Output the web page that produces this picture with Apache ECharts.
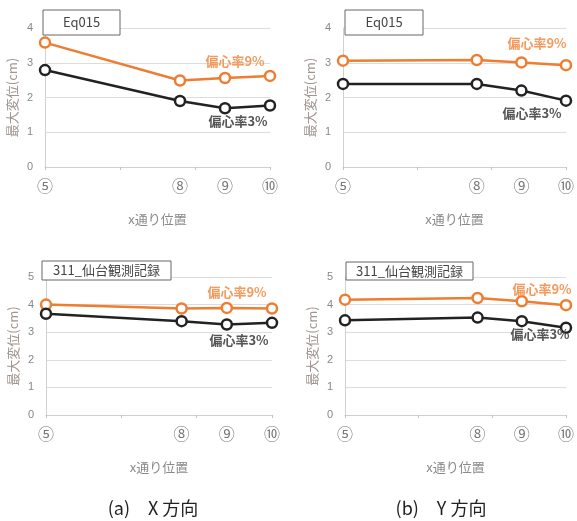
<!DOCTYPE html>
<html><head><meta charset="utf-8">
<script src="https://cdn.jsdelivr.net/npm/echarts@6/dist/echarts.min.js"></script>
<style>html,body{margin:0;padding:0;background:#fff}#c{width:577px;height:521px}</style>
</head><body><div id="c"></div>
<script>
// x positions of grid lines (relative), and their labels
const xPositions = [0, 18, 24, 30];
const xTickLabels = ['⑤', '⑧', '⑨', '⑩'];
// panel titles
const panelTitles = ['Eq015', 'Eq015', '311_仙台観測記録', '311_仙台観測記録'];
// Eccentricity 9% series (orange)
const ecc9_XEq015 = [3.58, 2.49, 2.56, 2.62];
const ecc9_YEq015 = [3.06, 3.08, 3.01, 2.93];
const ecc9_XSendai = [4.0, 3.86, 3.88, 3.86];
const ecc9_YSendai = [4.18, 4.24, 4.12, 3.98];
// Eccentricity 3% series (black)
const ecc3_XEq015 = [2.79, 1.90, 1.69, 1.77];
const ecc3_YEq015 = [2.39, 2.39, 2.20, 1.91];
const ecc3_XSendai = [3.67, 3.40, 3.28, 3.34];
const ecc3_YSendai = [3.43, 3.53, 3.40, 3.16];
const yMaxes = [4, 4, 5, 5];
const label9 = '偏心率9%';
const label3 = '偏心率3%';
const xAxisName = 'x通り位置';
const yAxisName = '最大変位(cm)';
const captions = ['(a)\u3000X 方向', '(b)\u3000Y 方向'];

const ORANGE = '#ee7d31', BLACK = '#222222';
const JP = '"Noto Sans CJK JP", sans-serif';
const grids = [
  {left: 45, top: 28, width: 225, height: 139},
  {left: 343, top: 28, width: 224, height: 139},
  {left: 46, top: 277, width: 226, height: 138},
  {left: 345, top: 277, width: 225, height: 138}
];
const data9 = [ecc9_XEq015, ecc9_YEq015, ecc9_XSendai, ecc9_YSendai];
const data3 = [ecc3_XEq015, ecc3_YEq015, ecc3_XSendai, ecc3_YSendai];

const xAxes = [], yAxes = [], series = [], graphic = [];
grids.forEach((g, i) => {
  xAxes.push({type: 'value', gridIndex: i, position: 'bottom', min: 0, max: 30, interval: 10,
    axisLine: {lineStyle: {color: '#cfcfcf'}}, axisTick: {show: true, length: 3, lineStyle: {color: '#c0c0c0'}},
    axisLabel: {show: false}, splitLine: {show: false},
    name: xAxisName, nameLocation: 'middle', nameGap: 46,
    nameTextStyle: {color: '#8a8a8a', fontSize: 13, fontFamily: JP}});
  xAxes.push({type: 'value', gridIndex: i, position: 'bottom', offset: 0, min: 0, max: 30, interval: 6,
    axisLine: {show: false}, axisTick: {show: false}, splitLine: {show: false},
    axisLabel: {show: true, margin: 11, color: '#777', fontSize: 16, fontFamily: JP,
      formatter: v => { const k = xPositions.indexOf(v); return k >= 0 ? xTickLabels[k] : ''; }}});
  yAxes.push({type: 'value', gridIndex: i, min: 0, max: yMaxes[i], interval: 1,
    axisLine: {show: true, lineStyle: {color: '#d0d0d0'}}, axisTick: {show: false},
    axisLabel: {color: '#888', fontSize: 11, margin: 12, fontFamily: 'Liberation Sans'},
    splitLine: {lineStyle: {color: '#dcdcdc'}},
    name: yAxisName, nameLocation: 'middle', nameGap: 26, nameRotate: 90,
    nameTextStyle: {color: '#a09590', fontSize: 13, fontFamily: JP}});
  const mk = (vals, color) => ({type: 'line', xAxisIndex: 2 * i, yAxisIndex: i,
    data: vals.map((v, k) => [xPositions[k], v]), symbol: 'circle', symbolSize: 10,
    lineStyle: {color, width: 2.5}, itemStyle: {color: '#fff', borderColor: color, borderWidth: 2.5},
    z: 3, animation: false});
  series.push(mk(data9[i], ORANGE));
  series.push(mk(data3[i], BLACK));
});

// panel title boxes
const boxes = [
  {x: 43, y: 10, w: 77, h: 25},
  {x: 345, y: 10, w: 78, h: 25},
  {x: 42, y: 261, w: 129, h: 19},
  {x: 346, y: 262, w: 127, h: 18}
];
boxes.forEach((b, i) => {
  graphic.push({type: 'rect', shape: {x: b.x, y: b.y, width: b.w, height: b.h},
    style: {fill: '#fff', stroke: '#666', lineWidth: 1}, z: 10});
  graphic.push({type: 'text', x: b.x + b.w / 2, y: b.y + b.h / 2, z: 11,
    style: {text: panelTitles[i], fill: '#444', fontSize: 13, fontFamily: JP, align: 'center', verticalAlign: 'middle'}});
});
// series annotations
const lab9 = [[235, 61], [537, 43], [237, 292], [542, 289]];
const lab3 = [[238, 121], [532, 113], [239, 340], [540, 334]];
lab9.forEach(p => graphic.push({type: 'text', x: p[0], y: p[1], z: 11,
  style: {text: label9, fill: '#f39a5c', fontSize: 13, fontWeight: 'bold', fontFamily: JP, align: 'center', verticalAlign: 'middle'}}));
lab3.forEach(p => graphic.push({type: 'text', x: p[0], y: p[1], z: 11,
  style: {text: label3, fill: '#555', fontSize: 13, fontWeight: 'bold', fontFamily: JP, align: 'center', verticalAlign: 'middle'}}));
// captions
[[153, 508], [441, 508]].forEach((p, i) => graphic.push({type: 'text', x: p[0], y: p[1],
  style: {text: captions[i], fill: '#222', fontSize: 18, fontFamily: JP, align: 'center', verticalAlign: 'middle'}}));

const chart = echarts.init(document.getElementById('c'), null, {renderer: 'canvas'});
chart.setOption({animation: false, grid: grids, xAxis: xAxes, yAxis: yAxes, series, graphic});
</script></body></html>
